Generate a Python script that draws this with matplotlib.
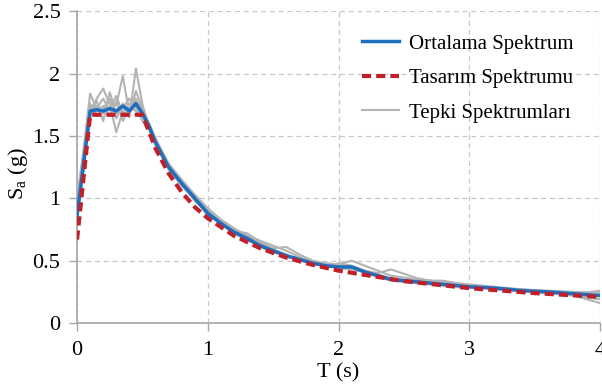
import numpy as np
import matplotlib.pyplot as plt

plt.rcParams['font.family'] = ['Liberation Serif', 'DejaVu Serif']
plt.rcParams['mathtext.fontset'] = 'custom'
plt.rcParams['mathtext.rm'] = 'Liberation Serif'

# Period values (s)
T_grid = [0, 0.05, 0.1, 0.15, 0.2, 0.25, 0.3, 0.35, 0.4, 0.45, 0.5, 0.55, 0.6,
          0.7, 0.8, 0.9, 1.0, 1.1, 1.2, 1.3, 1.4, 1.5, 1.6, 1.7, 1.8, 1.9, 2.0,
          2.1, 2.2, 2.3, 2.4, 2.6, 2.8, 3.0, 3.2, 3.4, 3.6, 3.8, 4.0]

# Individual response spectra (gray)
tepki_1 = [1.00, 1.40, 1.84, 1.72, 1.80, 1.70, 1.75, 1.98, 1.68, 1.80, 1.70, 1.60, 1.48,
           1.28, 1.15, 1.03, 0.92, 0.83, 0.76, 0.70, 0.66, 0.62, 0.58, 0.53, 0.50, 0.48, 0.47,
           0.50, 0.46, 0.42, 0.38, 0.35, 0.33, 0.31, 0.29, 0.27, 0.26, 0.25, 0.24]
tepki_2 = [0.95, 1.30, 1.65, 1.80, 1.88, 1.75, 1.53, 1.70, 1.65, 2.04, 1.75, 1.58, 1.46,
           1.26, 1.14, 1.02, 0.90, 0.81, 0.74, 0.72, 0.65, 0.60, 0.61, 0.55, 0.50, 0.47, 0.46,
           0.44, 0.42, 0.40, 0.43, 0.36, 0.32, 0.30, 0.28, 0.27, 0.25, 0.22, 0.19]
tepki_3 = [0.90, 1.25, 1.72, 1.78, 1.62, 1.85, 1.68, 1.72, 1.80, 1.72, 1.62, 1.55, 1.42,
           1.24, 1.10, 0.99, 0.87, 0.80, 0.72, 0.67, 0.61, 0.57, 0.53, 0.51, 0.49, 0.45, 0.48,
           0.46, 0.42, 0.38, 0.35, 0.34, 0.34, 0.30, 0.28, 0.26, 0.24, 0.22, 0.16]
tepki_4 = [0.85, 1.22, 1.68, 1.70, 1.74, 1.66, 1.78, 1.62, 1.73, 1.70, 1.66, 1.57, 1.44,
           1.27, 1.13, 1.01, 0.89, 0.79, 0.72, 0.66, 0.63, 0.57, 0.54, 0.52, 0.47, 0.46, 0.44,
           0.43, 0.41, 0.37, 0.34, 0.32, 0.30, 0.29, 0.28, 0.26, 0.25, 0.24, 0.25]
tepki_5 = [0.88, 1.26, 1.76, 1.66, 1.72, 1.80, 1.64, 1.76, 1.66, 1.86, 1.72, 1.60, 1.47,
           1.23, 1.11, 1.00, 0.86, 0.81, 0.74, 0.68, 0.61, 0.59, 0.55, 0.50, 0.49, 0.47, 0.45,
           0.45, 0.40, 0.38, 0.35, 0.33, 0.31, 0.30, 0.27, 0.26, 0.24, 0.23, 0.26]
tepki_6 = [0.92, 1.30, 1.70, 1.74, 1.68, 1.72, 1.82, 1.68, 1.76, 1.74, 1.68, 1.59, 1.45,
           1.25, 1.12, 0.98, 0.88, 0.80, 0.73, 0.69, 0.64, 0.58, 0.54, 0.52, 0.48, 0.46, 0.44,
           0.44, 0.41, 0.39, 0.36, 0.33, 0.32, 0.29, 0.28, 0.27, 0.25, 0.24, 0.23]
tepki_list = [tepki_1, tepki_2, tepki_3, tepki_4, tepki_5, tepki_6]

# Mean spectrum (blue)
ortalama = [0.86, 1.28, 1.70, 1.71, 1.70, 1.72, 1.70, 1.74, 1.70, 1.76, 1.68, 1.58, 1.45,
            1.25, 1.12, 1.00, 0.88, 0.80, 0.73, 0.68, 0.62, 0.58, 0.54, 0.51, 0.48, 0.46, 0.45,
            0.45, 0.41, 0.38, 0.35, 0.33, 0.31, 0.29, 0.28, 0.26, 0.25, 0.235, 0.22]

# Design spectrum (red dashed)
T_design = [0, 0.1, 0.5, 0.6, 0.7, 0.8, 0.9, 1.0, 1.2, 1.4, 1.6, 1.8, 2.0, 2.5, 3.0, 3.5, 4.0]
tasarim = [0.67, 1.67, 1.67, 1.40, 1.20, 1.05, 0.93, 0.84, 0.70, 0.60, 0.525, 0.467, 0.42,
           0.336, 0.28, 0.24, 0.21]

fig = plt.figure(figsize=(6.02, 3.86), dpi=100)
ax = fig.add_axes([0.128, 0.163, 0.869, 0.808])

for i, s in enumerate(tepki_list):
    ax.plot(T_grid, s, color='#b3b3b3', lw=1.5, zorder=2,
            label='Tepki Spektrumları' if i == 0 else None)
ax.plot(T_grid, ortalama, color='#1f6fc0', lw=2.5, zorder=3, label='Ortalama Spektrum')
ax.plot(T_design, tasarim, color='#c0202a', lw=3, ls=(0, (2.2, 1.2)), zorder=4,
        label='Tasarım Spektrumu')

ax.set_xlim(0, 4)
ax.set_ylim(0, 2.5)
ax.set_xticks([0, 1, 2, 3, 4])
ax.set_yticks([0, 0.5, 1, 1.5, 2, 2.5])
ax.set_yticklabels(['0', '0.5', '1', '1.5', '2', '2.5'])
ax.grid(True, color='#c8c8c8', ls=(0, (4, 3)), lw=0.9)
ax.set_axisbelow(True)
for side in ['top', 'right']:
    ax.spines[side].set_visible(False)
for side in ['left', 'bottom']:
    ax.spines[side].set_color('#a6a6a6')
    ax.spines[side].set_linewidth(1.2)
ax.tick_params(colors='#a6a6a6', labelcolor='black', labelsize=16, length=6, width=1)
ax.tick_params(axis='x', pad=7)
ax.tick_params(axis='y', pad=6)

ax.set_xlabel('T (s)', fontsize=16, labelpad=2)
ax.set_ylabel('S$_\\mathregular{a}$ (g)', fontsize=16)
ax.yaxis.set_label_coords(-0.09, 0.48)

handles, labels = ax.get_legend_handles_labels()
order = [labels.index('Ortalama Spektrum'), labels.index('Tasarım Spektrumu'),
         labels.index('Tepki Spektrumları')]
leg_handles = [handles[k] for k in order]
ax.legend(leg_handles, [labels[k] for k in order], loc='upper left',
          bbox_to_anchor=(0.545, 0.927), borderaxespad=0, borderpad=0,
          frameon=False, fontsize=15, handlelength=1.75, handletextpad=0.5,
          labelspacing=0.72)

fig.savefig('out.png', dpi=100)
